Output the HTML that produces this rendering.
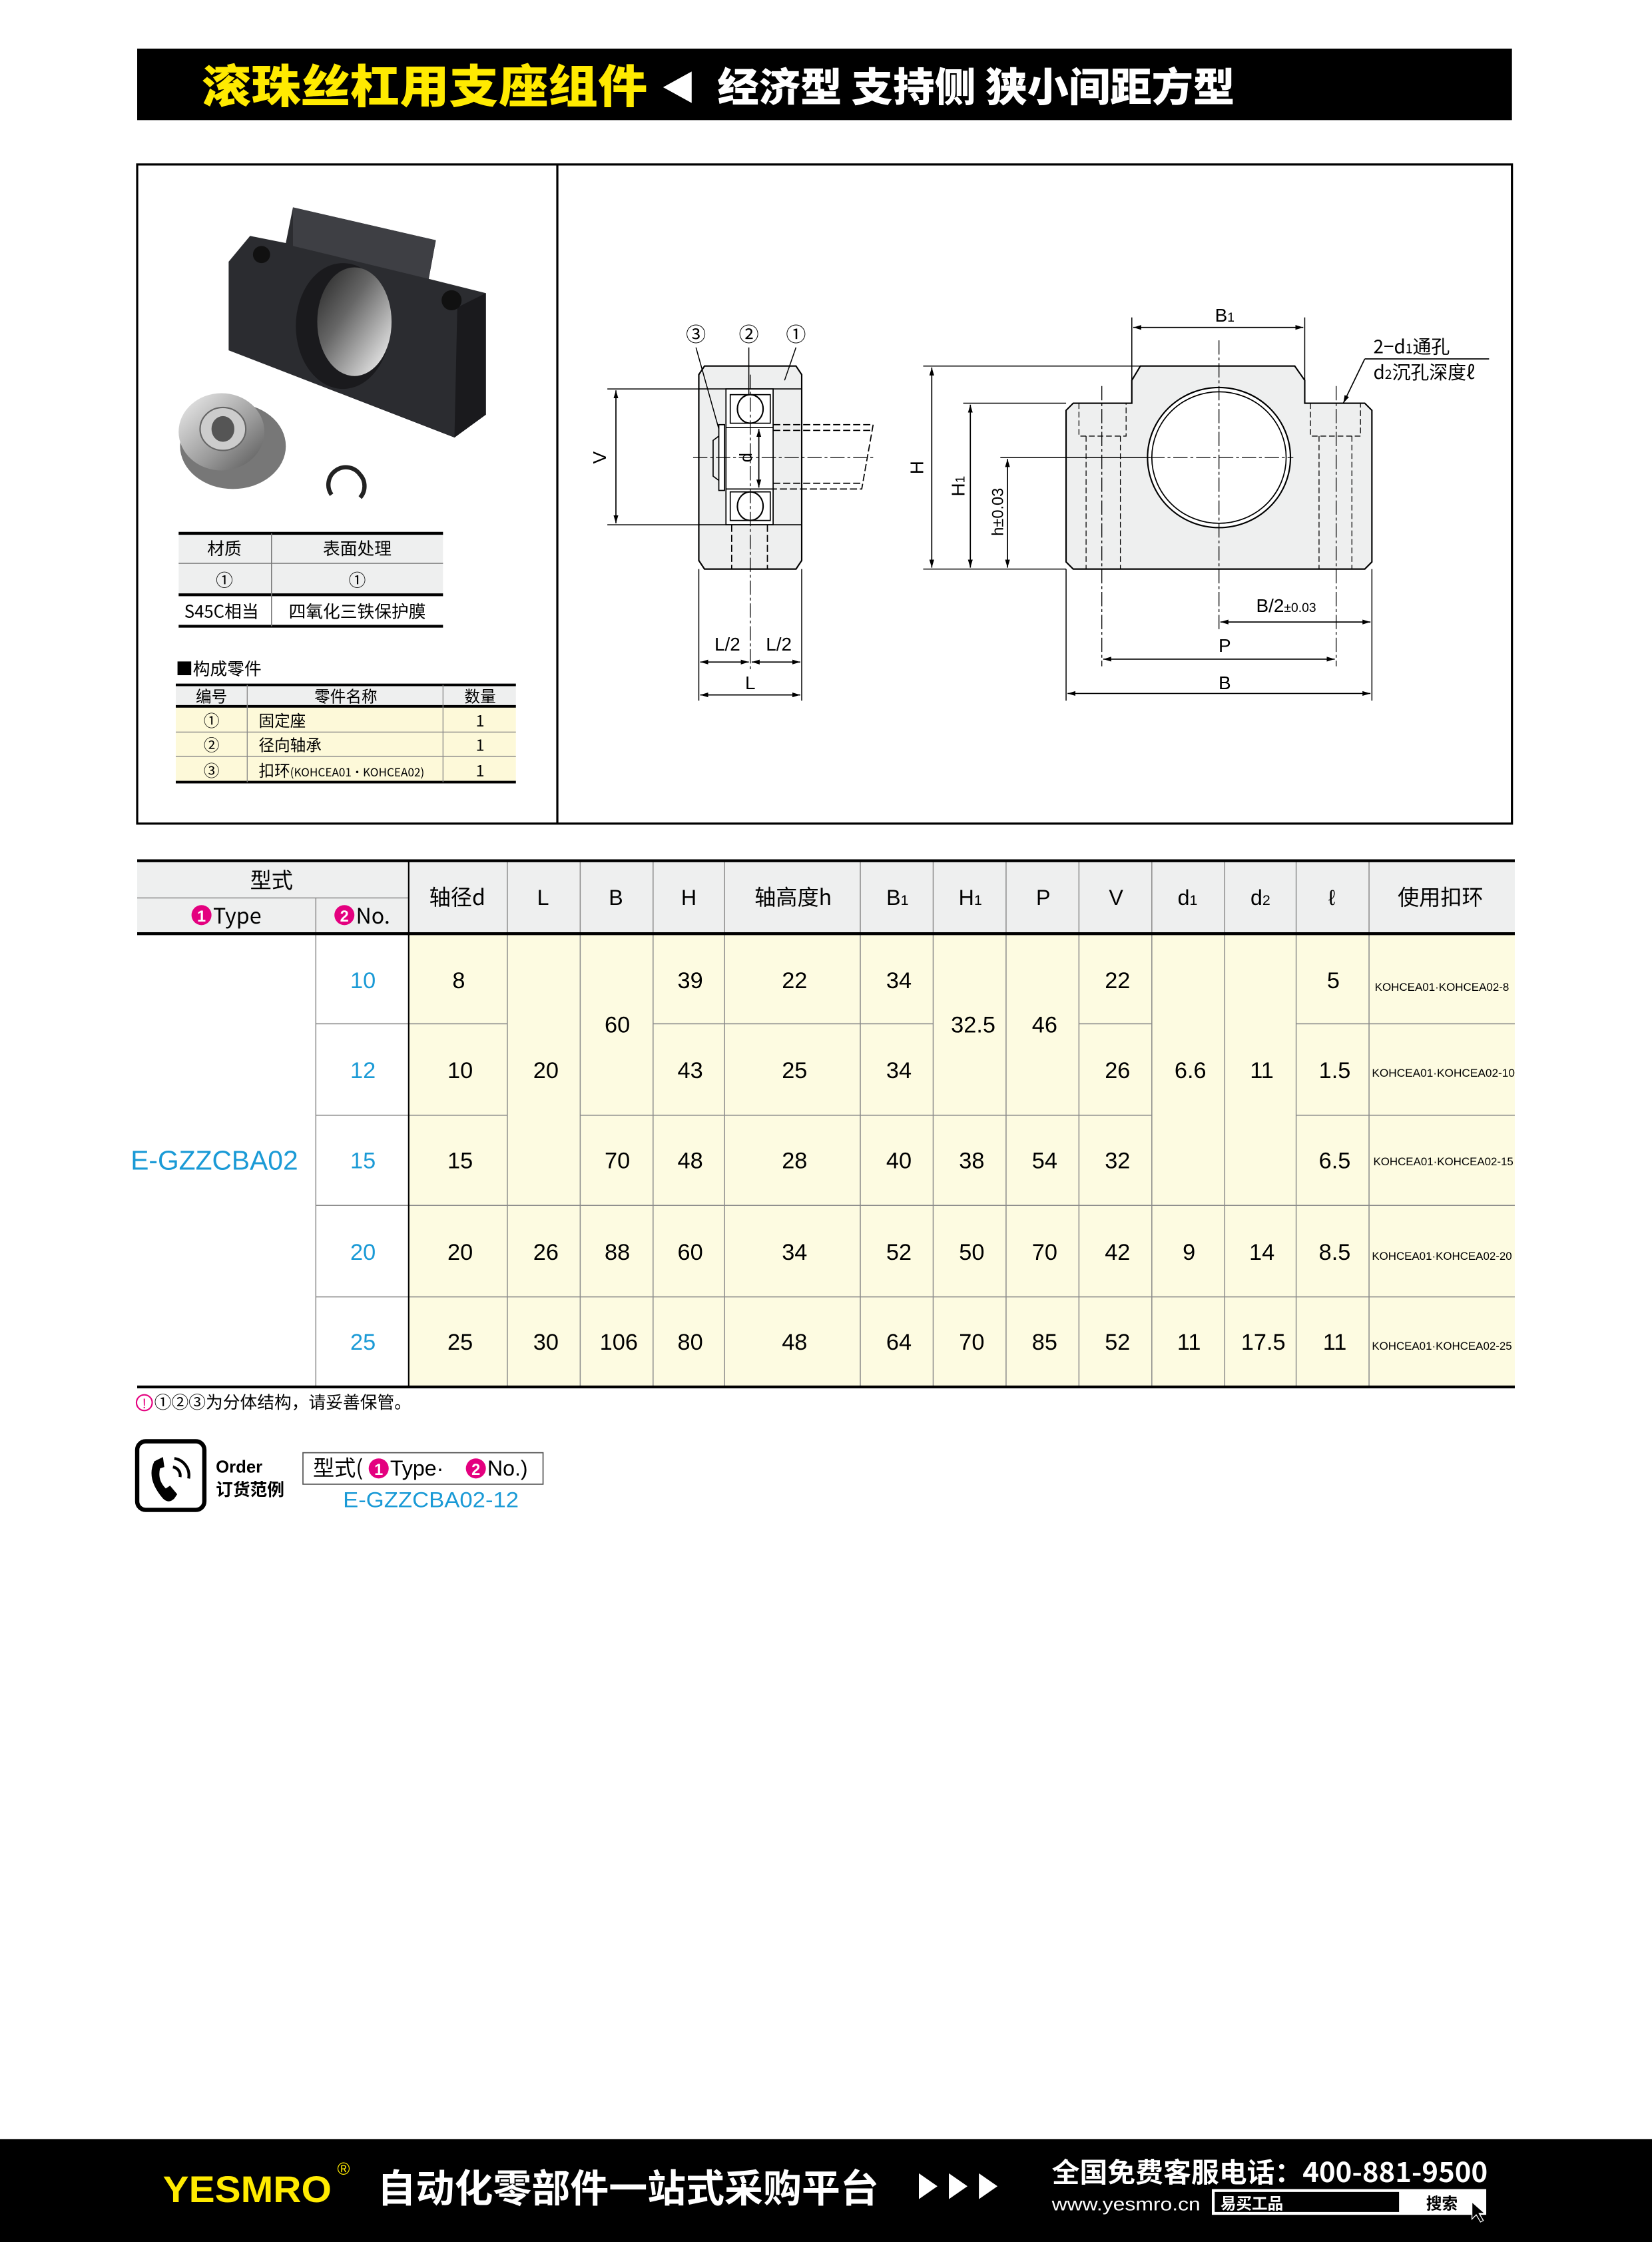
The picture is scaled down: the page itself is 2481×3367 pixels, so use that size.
<!DOCTYPE html>
<html><head><meta charset="utf-8">
<style>
html,body{margin:0;padding:0;background:#fff;}
svg{display:block;}
text{font-family:"Liberation Sans","Noto Sans CJK SC",sans-serif;}
.c{font-family:"Noto Sans CJK SC","Liberation Sans",sans-serif;}
</style></head>
<body>
<svg width="2481" height="3367" viewBox="0 0 1156 1568" preserveAspectRatio="none" xmlns="http://www.w3.org/2000/svg">
<defs>
<marker id="a" viewBox="0 0 10 10" refX="10" refY="5" markerWidth="7" markerHeight="7" orient="auto-start-reverse"><path d="M0,2 L10,5 L0,8 z" fill="#000"/></marker>
<linearGradient id="bg1" x1="0" y1="0" x2="1" y2="1"><stop offset="0" stop-color="#f0f0f0"/><stop offset="0.6" stop-color="#999"/><stop offset="1" stop-color="#555"/></linearGradient>
<linearGradient id="hole" x1="0" y1="0" x2="1" y2="1"><stop offset="0" stop-color="#222"/><stop offset="0.4" stop-color="#666"/><stop offset="1" stop-color="#fff"/></linearGradient>
</defs>

<!-- Header -->
<rect x="96" y="34" width="962" height="50" fill="#000"/>
<text class="c" x="141" y="72" font-size="32" font-weight="900" fill="#ffea00" textLength="312" lengthAdjust="spacingAndGlyphs">滚珠丝杠用支座组件</text>
<polygon points="464,61 484,50 484,72" fill="#fff"/>
<text class="c" x="502" y="71" font-size="28" font-weight="900" fill="#fff" textLength="362" lengthAdjust="spacingAndGlyphs">经济型 支持侧 狭小间距方型</text>

<!-- Main box -->
<rect x="96" y="115" width="962" height="461" fill="none" stroke="#000" stroke-width="1.5"/>
<line x1="390" y1="115" x2="390" y2="576" stroke="#000" stroke-width="1.5"/>

<!-- Photo -->
<polygon points="160,183 175,165 200,170 205,145 305,168 300,195 340,205 340,290 318,306 160,245" fill="#2b2c30"/>
<polygon points="205,145 305,168 300,195 205,172" fill="#3e3f44"/>
<polygon points="318,306 340,290 340,205 320,215" fill="#1a1a1d"/>
<ellipse cx="240" cy="228" rx="33" ry="44" fill="#1a1a1d"/>
<ellipse cx="248" cy="225" rx="26" ry="38" fill="url(#hole)"/>
<circle cx="183" cy="178" r="6" fill="#111"/>
<circle cx="316" cy="210" r="7" fill="#111"/>
<ellipse cx="163" cy="312" rx="37" ry="30" fill="#777"/>
<ellipse cx="155" cy="302" rx="30" ry="27" fill="url(#bg1)"/>
<ellipse cx="156" cy="300" rx="16" ry="15" fill="#ccc" stroke="#666"/>
<ellipse cx="156" cy="300" rx="8" ry="9" fill="#555"/>
<path d="M232,346 a12,12 0 1 1 20,-14 a12,12 0 0 1 0,16" fill="none" stroke="#222" stroke-width="3"/>

<!-- Material table -->
<rect x="125" y="372" width="185" height="44" fill="#eeefef"/>
<line x1="125" y1="373" x2="310" y2="373" stroke="#000" stroke-width="2"/>
<line x1="125" y1="394" x2="310" y2="394" stroke="#777" stroke-width="0.7"/>
<line x1="125" y1="416" x2="310" y2="416" stroke="#000" stroke-width="2"/>
<line x1="125" y1="438" x2="310" y2="438" stroke="#000" stroke-width="2"/>
<line x1="190" y1="373" x2="190" y2="438" stroke="#777" stroke-width="0.7"/>
<g class="c" font-size="12" text-anchor="middle">
<text x="157" y="388" class="c">材质</text><text x="250" y="388" class="c">表面处理</text>
<text x="157" y="410" class="c">①</text><text x="250" y="410" class="c">①</text>
<text x="155" y="432" class="c">S45C相当</text><text x="250" y="432" class="c">四氧化三铁保护膜</text>
</g>

<!-- Parts -->
<text class="c" x="123" y="472" font-size="12">■构成零件</text>
<rect x="123" y="479" width="238" height="15" fill="#eeefef"/>
<rect x="123" y="494" width="238" height="53" fill="#fdf9d9"/>
<line x1="123" y1="479" x2="361" y2="479" stroke="#000" stroke-width="1.8"/>
<line x1="123" y1="494" x2="361" y2="494" stroke="#000" stroke-width="1.8"/>
<line x1="123" y1="512" x2="361" y2="512" stroke="#888" stroke-width="0.6"/>
<line x1="123" y1="529" x2="361" y2="529" stroke="#888" stroke-width="0.6"/>
<line x1="123" y1="547" x2="361" y2="547" stroke="#000" stroke-width="1.8"/>
<line x1="173" y1="479" x2="173" y2="547" stroke="#888" stroke-width="0.6"/>
<line x1="310" y1="479" x2="310" y2="547" stroke="#888" stroke-width="0.6"/>
<g class="c" font-size="11">
<text x="148" y="491" text-anchor="middle" class="c">编号</text><text x="242" y="491" text-anchor="middle" class="c">零件名称</text><text x="336" y="491" text-anchor="middle" class="c">数量</text>
<text x="148" y="508" text-anchor="middle" class="c">①</text><text x="181" y="508" class="c">固定座</text><text x="336" y="508" text-anchor="middle" class="c">1</text>
<text x="148" y="525" text-anchor="middle" class="c">②</text><text x="181" y="525" class="c">径向轴承</text><text x="336" y="525" text-anchor="middle" class="c">1</text>
<text x="148" y="543" text-anchor="middle" class="c">③</text><text x="181" y="543" class="c">扣环<tspan font-size="8">(KOHCEA01·KOHCEA02)</tspan></text><text x="336" y="543" text-anchor="middle" class="c">1</text>
</g>

<!-- Side view -->
<path d="M493,256 L557,256 L561,262 L561,392 L557,398 L493,398 L489,392 L489,262 Z" fill="#eeefef" stroke="#000" stroke-width="1"/>
<rect x="508" y="272" width="33" height="95" fill="#fff" stroke="#000" stroke-width="0.8"/>
<line x1="489" y1="272" x2="561" y2="272" stroke="#000" stroke-width="0.8"/>
<line x1="489" y1="367" x2="561" y2="367" stroke="#000" stroke-width="0.8"/>
<line x1="508" y1="299" x2="541" y2="299" stroke="#000" stroke-width="0.8"/>
<line x1="508" y1="342" x2="541" y2="342" stroke="#000" stroke-width="0.8"/>
<rect x="511" y="276" width="28" height="20" fill="none" stroke="#000" stroke-width="0.8"/>
<rect x="511" y="344" width="28" height="20" fill="none" stroke="#000" stroke-width="0.8"/>
<ellipse cx="525" cy="286" rx="9" ry="10" fill="#fff" stroke="#000" stroke-width="1"/>
<ellipse cx="525" cy="354" rx="9" ry="10" fill="#fff" stroke="#000" stroke-width="1"/>
<rect x="503" y="297" width="4" height="46" fill="#fff" stroke="#000" stroke-width="0.8"/>
<path d="M503,305 L499,308 L499,333 L503,336" fill="none" stroke="#000" stroke-width="0.8"/>
<g stroke="#000" stroke-width="0.8" fill="none" stroke-dasharray="5,2">
<path d="M541,297 L611,297 L603,342 L541,342"/>
<line x1="541" y1="301" x2="610" y2="301"/>
<line x1="541" y1="338" x2="604" y2="338"/>
<line x1="512" y1="367" x2="512" y2="398"/>
<line x1="537" y1="367" x2="537" y2="398"/>
</g>
<g stroke="#000" stroke-width="0.6" stroke-dasharray="10,2,2,2" fill="none">
<line x1="485" y1="320" x2="612" y2="320"/>
<line x1="525" y1="262" x2="525" y2="470"/>
</g>
<line x1="531" y1="300" x2="531" y2="341" stroke="#000" stroke-width="0.8" marker-start="url(#a)" marker-end="url(#a)"/>
<text x="527" y="320" font-size="12" transform="rotate(-90 527 320)" text-anchor="middle" dy="-1">d</text>
<g stroke="#000" stroke-width="0.7">
<line x1="487" y1="243" x2="503" y2="300"/>
<line x1="524" y1="243" x2="524" y2="276"/>
<line x1="557" y1="243" x2="549" y2="266"/>
</g>
<g font-size="14" text-anchor="middle" class="c">
<text x="487" y="239" class="c">③</text><text x="524" y="239" class="c">②</text><text x="557" y="239" class="c">①</text>
</g>
<g stroke="#000" stroke-width="0.7">
<line x1="425" y1="272" x2="489" y2="272"/>
<line x1="425" y1="367" x2="489" y2="367"/>
<line x1="489" y1="398" x2="489" y2="490"/>
<line x1="561" y1="398" x2="561" y2="490"/>
</g>
<line x1="431" y1="273" x2="431" y2="366" stroke="#000" stroke-width="0.8" marker-start="url(#a)" marker-end="url(#a)"/>
<text x="420" y="320" font-size="13" text-anchor="middle" transform="rotate(-90 420 320)" dy="4">V</text>
<line x1="490" y1="463" x2="524" y2="463" stroke="#000" stroke-width="0.8" marker-start="url(#a)" marker-end="url(#a)"/>
<line x1="526" y1="463" x2="560" y2="463" stroke="#000" stroke-width="0.8" marker-start="url(#a)" marker-end="url(#a)"/>
<line x1="490" y1="486" x2="560" y2="486" stroke="#000" stroke-width="0.8" marker-start="url(#a)" marker-end="url(#a)"/>
<g font-size="13" text-anchor="middle"><text x="509" y="455">L/2</text><text x="545" y="455">L/2</text><text x="525" y="482" stroke="#fff" stroke-width="3" paint-order="stroke">L</text></g>

<!-- Front view -->
<path d="M751,282 L792,282 L792,266 L798,256 L906,256 L913,266 L913,282 L955,282 L960,287 L960,393 L955,398 L751,398 L746,393 L746,287 Z" fill="#eeefef" stroke="#000" stroke-width="1"/>
<ellipse cx="853" cy="320" rx="50" ry="49" fill="#fff" stroke="#000" stroke-width="1"/>
<ellipse cx="853" cy="320" rx="47" ry="46" fill="none" stroke="#000" stroke-width="0.8"/>
<g stroke="#000" stroke-width="0.6" fill="none" stroke-dasharray="4,2">
<path d="M755,282 L755,305 L788,305 L788,282"/>
<line x1="760" y1="305" x2="760" y2="398"/><line x1="784" y1="305" x2="784" y2="398"/>
<path d="M917,282 L917,305 L952,305 L952,282"/>
<line x1="923" y1="305" x2="923" y2="398"/><line x1="946" y1="305" x2="946" y2="398"/>
</g>
<g stroke="#000" stroke-width="0.6" fill="none" stroke-dasharray="10,2,2,2">
<line x1="853" y1="238" x2="853" y2="440"/>
<line x1="805" y1="320" x2="905" y2="320"/>
<line x1="771" y1="270" x2="771" y2="466"/>
<line x1="935" y1="270" x2="935" y2="466"/>
</g>
<g stroke="#000" stroke-width="0.7">
<line x1="646" y1="256" x2="798" y2="256"/>
<line x1="674" y1="282" x2="746" y2="282"/>
<line x1="700" y1="320" x2="805" y2="320"/>
<line x1="646" y1="398" x2="746" y2="398"/>
<line x1="792" y1="222" x2="792" y2="266"/>
<line x1="913" y1="222" x2="913" y2="266"/>
<line x1="746" y1="398" x2="746" y2="490"/>
<line x1="960" y1="398" x2="960" y2="490"/>
</g>
<g stroke="#000" stroke-width="0.8">
<line x1="652" y1="257" x2="652" y2="397" marker-start="url(#a)" marker-end="url(#a)"/>
<line x1="679" y1="283" x2="679" y2="397" marker-start="url(#a)" marker-end="url(#a)"/>
<line x1="705" y1="321" x2="705" y2="397" marker-start="url(#a)" marker-end="url(#a)"/>
<line x1="793" y1="229" x2="912" y2="229" marker-start="url(#a)" marker-end="url(#a)"/>
<line x1="854" y1="435" x2="959" y2="435" marker-start="url(#a)" marker-end="url(#a)"/>
<line x1="772" y1="461" x2="934" y2="461" marker-start="url(#a)" marker-end="url(#a)"/>
<line x1="747" y1="485" x2="959" y2="485" marker-start="url(#a)" marker-end="url(#a)"/>
<line x1="955" y1="251" x2="1042" y2="251"/>
<line x1="955" y1="251" x2="940" y2="282" marker-end="url(#a)"/>
</g>
<g font-size="13" text-anchor="middle">
<text x="857" y="225">B<tspan font-size="9">1</tspan></text>
<text x="646" y="327" transform="rotate(-90 646 327)">H</text>
<text x="675" y="340" transform="rotate(-90 675 340)">H<tspan font-size="9">1</tspan></text>
<text x="702" y="358" font-size="11" transform="rotate(-90 702 358)">h±0.03</text>
<text x="900" y="428">B/2<tspan font-size="9">±0.03</tspan></text>
<text x="857" y="456">P</text>
<text x="857" y="482">B</text>
</g>
<text class="c" x="961" y="247" font-size="13">2−d<tspan font-size="9">1</tspan>通孔</text>
<text class="c" x="961" y="265" font-size="13">d<tspan font-size="9">2</tspan>沉孔深度ℓ</text>

<!-- Data table -->
<rect x="96" y="602" width="964" height="51" fill="#eeefef"/>
<rect x="286" y="653" width="774" height="317" fill="#fdfbe1"/>
<g stroke="#8a8a8a" stroke-width="0.7">
<line x1="96" y1="628" x2="286" y2="628"/>
<line x1="221" y1="628" x2="221" y2="970"/>
<line x1="355" y1="602" x2="355" y2="970"/><line x1="406" y1="602" x2="406" y2="970"/>
<line x1="457" y1="602" x2="457" y2="970"/><line x1="507" y1="602" x2="507" y2="970"/>
<line x1="602" y1="602" x2="602" y2="970"/><line x1="653" y1="602" x2="653" y2="970"/>
<line x1="704" y1="602" x2="704" y2="970"/><line x1="755" y1="602" x2="755" y2="970"/>
<line x1="806" y1="602" x2="806" y2="970"/><line x1="857" y1="602" x2="857" y2="970"/>
<line x1="907" y1="602" x2="907" y2="970"/><line x1="958" y1="602" x2="958" y2="970"/>
<line x1="221" y1="716" x2="355" y2="716"/><line x1="457" y1="716" x2="653" y2="716"/><line x1="755" y1="716" x2="806" y2="716"/><line x1="907" y1="716" x2="1060" y2="716"/>
<line x1="221" y1="780" x2="355" y2="780"/><line x1="406" y1="780" x2="806" y2="780"/><line x1="907" y1="780" x2="1060" y2="780"/>
<line x1="221" y1="843" x2="1060" y2="843"/>
<line x1="221" y1="907" x2="1060" y2="907"/>
</g>
<line x1="286" y1="602" x2="286" y2="970" stroke="#000" stroke-width="1"/>
<line x1="96" y1="602" x2="1060" y2="602" stroke="#000" stroke-width="2"/>
<line x1="96" y1="653" x2="1060" y2="653" stroke="#000" stroke-width="2"/>
<line x1="96" y1="970" x2="1060" y2="970" stroke="#000" stroke-width="2"/>
<g class="c" font-size="15" text-anchor="middle">
<text x="190" y="621" class="c">型式</text>
<circle cx="141" cy="640" r="7" fill="#e4007f"/><text x="141" y="644.5" font-size="11" fill="#fff" font-weight="bold">1</text>
<text x="166" y="646" class="c">Type</text>
<circle cx="241" cy="640" r="7" fill="#e4007f"/><text x="241" y="644.5" font-size="11" fill="#fff" font-weight="bold">2</text>
<text x="261" y="646" class="c">No.</text>
<text x="320" y="633" class="c">轴径d</text><text x="380" y="633">L</text><text x="431" y="633">B</text><text x="482" y="633">H</text>
<text x="555" y="633" class="c">轴高度h</text><text x="628" y="633">B<tspan font-size="10">1</tspan></text><text x="679" y="633">H<tspan font-size="10">1</tspan></text>
<text x="730" y="633">P</text><text x="781" y="633">V</text><text x="831" y="633">d<tspan font-size="10">1</tspan></text><text x="882" y="633">d<tspan font-size="10">2</tspan></text>
<text x="932" y="633">ℓ</text><text x="1008" y="633" class="c">使用扣环</text>
</g>
<g font-size="16" text-anchor="middle">
<text x="150" y="818" fill="#1a9ad6" font-size="19">E-GZZCBA02</text>
<g fill="#1a9ad6"><text x="254" y="691">10</text><text x="254" y="754">12</text><text x="254" y="817">15</text><text x="254" y="881">20</text><text x="254" y="944">25</text></g>
<text x="321" y="691">8</text><text x="483" y="691">39</text><text x="556" y="691">22</text><text x="629" y="691">34</text><text x="782" y="691">22</text><text x="933" y="691">5</text>
<text x="322" y="754">10</text><text x="483" y="754">43</text><text x="556" y="754">25</text><text x="629" y="754">34</text><text x="782" y="754">26</text><text x="934" y="754">1.5</text>
<text x="322" y="817">15</text><text x="432" y="817">70</text><text x="483" y="817">48</text><text x="556" y="817">28</text><text x="629" y="817">40</text><text x="680" y="817">38</text><text x="731" y="817">54</text><text x="782" y="817">32</text><text x="934" y="817">6.5</text>
<text x="322" y="881">20</text><text x="382" y="881">26</text><text x="432" y="881">88</text><text x="483" y="881">60</text><text x="556" y="881">34</text><text x="629" y="881">52</text><text x="680" y="881">50</text><text x="731" y="881">70</text><text x="782" y="881">42</text><text x="832" y="881">9</text><text x="883" y="881">14</text><text x="934" y="881">8.5</text>
<text x="322" y="944">25</text><text x="382" y="944">30</text><text x="433" y="944">106</text><text x="483" y="944">80</text><text x="556" y="944">48</text><text x="629" y="944">64</text><text x="680" y="944">70</text><text x="731" y="944">85</text><text x="782" y="944">52</text><text x="832" y="944">11</text><text x="884" y="944">17.5</text><text x="934" y="944">11</text>
<text x="432" y="722">60</text><text x="681" y="722">32.5</text><text x="731" y="722">46</text>
<text x="382" y="754">20</text><text x="833" y="754">6.6</text><text x="883" y="754">11</text>
</g>
<g font-size="7.6" text-anchor="middle">
<text x="1009" y="693" textLength="94" lengthAdjust="spacingAndGlyphs">KOHCEA01·KOHCEA02-8</text>
<text x="1010" y="753" textLength="100" lengthAdjust="spacingAndGlyphs">KOHCEA01·KOHCEA02-10</text>
<text x="1010" y="815" textLength="98" lengthAdjust="spacingAndGlyphs">KOHCEA01·KOHCEA02-15</text>
<text x="1009" y="881" textLength="98" lengthAdjust="spacingAndGlyphs">KOHCEA01·KOHCEA02-20</text>
<text x="1009" y="944" textLength="98" lengthAdjust="spacingAndGlyphs">KOHCEA01·KOHCEA02-25</text>
</g>
<circle cx="101" cy="981" r="5.5" fill="none" stroke="#e4007f" stroke-width="1"/>
<text x="101" y="985" font-size="10" fill="#e4007f" text-anchor="middle">!</text>
<text class="c" x="108" y="985" font-size="12">①②③为分体结构，请妥善保管。</text>

<!-- Order -->
<rect x="96" y="1008" width="47" height="48" rx="6" fill="#fff" stroke="#000" stroke-width="3"/>
<path d="M108,1022 q-6,12 6,26 q4,4 8,0 l2,-3 l-5,-6 l-3,2 q-6,-6 -4,-14 l3,-1 l-1,-7 z" fill="#000"/>
<path d="M122,1020 a12,12 0 0 1 10,14 M121,1026 a6,6 0 0 1 5,7" fill="none" stroke="#000" stroke-width="2"/>
<text x="151" y="1030" font-size="12" font-weight="bold">Order</text>
<text class="c" x="151" y="1046" font-size="12" font-weight="bold">订货范例</text>
<rect x="212" y="1016" width="168" height="22" fill="#fff" stroke="#555" stroke-width="0.8"/>
<text class="c" x="219" y="1032" font-size="15">型式(</text>
<circle cx="265" cy="1027" r="7" fill="#e4007f"/><text x="265" y="1031.5" font-size="11" fill="#fff" font-weight="bold" text-anchor="middle">1</text>
<text x="273" y="1032" font-size="15">Type·</text>
<circle cx="333" cy="1027" r="7" fill="#e4007f"/><text x="333" y="1031.5" font-size="11" fill="#fff" font-weight="bold" text-anchor="middle">2</text>
<text x="341" y="1032" font-size="15">No.)</text>
<text x="240" y="1054" font-size="15" fill="#1a9ad6" textLength="123" lengthAdjust="spacingAndGlyphs">E-GZZCBA02-12</text>

<!-- Footer -->
<rect x="0" y="1496" width="1156" height="72" fill="#000"/>
<text x="114" y="1540" font-size="26" font-weight="900" fill="#ffea00" textLength="118" lengthAdjust="spacingAndGlyphs">YESMRO</text>
<text x="236" y="1521" font-size="12" fill="#ffea00">®</text>
<text class="c" x="264" y="1540" font-size="27" fill="#fff" font-weight="bold">自动化零部件一站式采购平台</text>
<polygon points="643,1520 656,1529 643,1538" fill="#fff"/>
<polygon points="664,1520 677,1529 664,1538" fill="#fff"/>
<polygon points="685,1520 698,1529 685,1538" fill="#fff"/>
<text class="c" x="736" y="1526" font-size="19" fill="#fff" font-weight="bold" textLength="305" lengthAdjust="spacingAndGlyphs">全国免费客服电话：400-881-9500</text>
<text x="736" y="1546" font-size="13" fill="#fff" textLength="104" lengthAdjust="spacingAndGlyphs">www.yesmro.cn</text>
<rect x="848" y="1531" width="192" height="18" fill="#fff"/>
<rect x="850" y="1533" width="129" height="14" fill="#000"/>
<text class="c" x="854" y="1545" font-size="11" fill="#fff" font-weight="bold">易买工品</text>
<text class="c" x="998" y="1545" font-size="11" fill="#000" font-weight="bold">搜索</text>
<path d="M1030,1540 l0,12 l3,-3 l3,5 l2,-1 l-3,-5 l4,0 z" fill="#000" stroke="#fff" stroke-width="0.6"/>
</svg>
</body></html>
